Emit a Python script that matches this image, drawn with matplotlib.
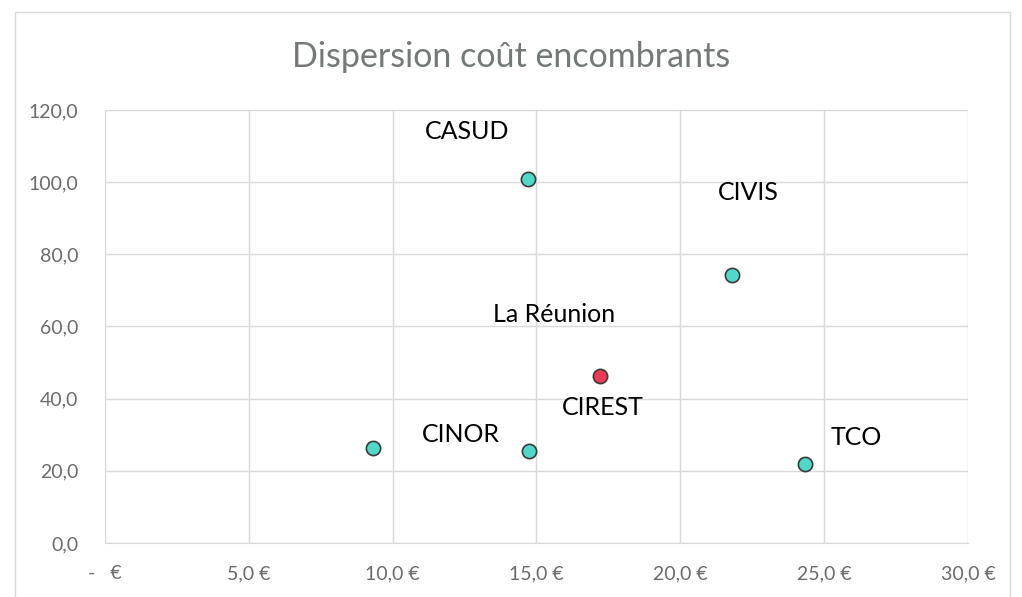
import matplotlib
matplotlib.use("Agg")
import matplotlib.pyplot as plt
from matplotlib.patches import Rectangle

# data
cout_x = [14.7, 21.8, 9.3, 14.75, 24.35]
tonnage_y = [101.0, 74.2, 26.2, 25.4, 21.8]
reunion_x = [17.2]
reunion_y = [46.4]

# labels as placed on the chart (x, baseline y in data units)
labels = ["CASUD", "CIVIS", "La Réunion", "CIREST", "CINOR", "TCO"]
label_x = [12.58, 22.35, 15.61, 17.31, 12.37, 26.1]
label_y = [112.0, 95.1, 61.3, 35.5, 28.0, 27.2]

x_ticks = [0, 5, 10, 15, 20, 25, 30]
x_ticklabels = ["-   €", "5,0 €", "10,0 €", "15,0 €", "20,0 €", "25,0 €", "30,0 €"]
y_ticks = [0, 20, 40, 60, 80, 100, 120]

plt.rcParams["font.family"] = ["Lato", "DejaVu Sans"]

fig = plt.figure(figsize=(10.22, 5.97), dpi=100)
fig.patches.append(Rectangle((15 / 1022, -0.01), 995 / 1022, 1 - 12 / 597 + 0.01,
                             transform=fig.transFigure, fill=False,
                             edgecolor="#d9d9d9", linewidth=1))
ax = fig.add_axes([0.1027, 0.0905, 0.8445, 0.7252])

ax.scatter(cout_x, tonnage_y, s=105, color="#4fd9c8", edgecolor="#3a3a3a",
           linewidth=1.2, zorder=3)
ax.scatter(reunion_x, reunion_y, s=105, color="#ee3a55", edgecolor="#3a3a3a",
           linewidth=1.2, zorder=3)

for lab, lx, ly in zip(labels, label_x, label_y):
    ax.text(lx, ly, lab, ha="center", va="baseline", fontsize=18, color="black")

ax.set_xlim(0, 30)
ax.set_ylim(0, 120)
ax.set_xticks(x_ticks)
ax.set_xticklabels(x_ticklabels)
ax.set_yticks(y_ticks)
ax.set_yticklabels([f"{v:.1f}".replace(".", ",") for v in y_ticks])
ax.grid(True, color="#d9d9d9", linewidth=1)
ax.set_axisbelow(True)
for sp in ["top", "right", "left"]:
    ax.spines[sp].set_visible(False)
ax.spines["bottom"].set_color("#d9d9d9")
ax.tick_params(length=0, labelsize=14, labelcolor="#6b6b6b")
ax.tick_params(axis="x", pad=16)
ax.tick_params(axis="y", pad=19)

fig.text(0.5, 0.904, "Dispersion coût encombrants", ha="center", va="center",
         fontsize=24.5, color="#737878")

fig.savefig("out.png", dpi=100)
